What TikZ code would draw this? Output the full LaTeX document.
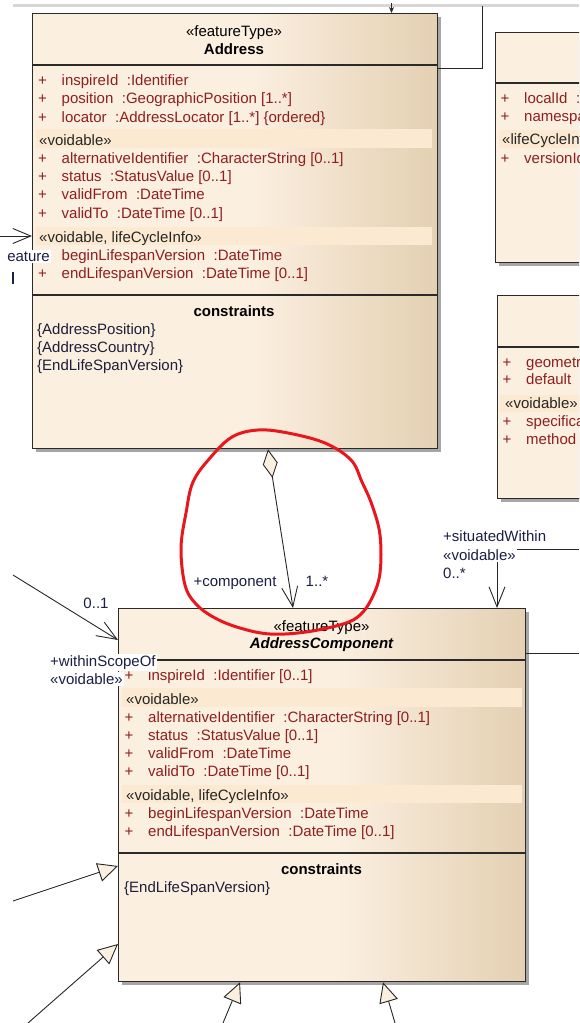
\documentclass[tikz,border=0pt]{standalone}
\usepackage{fontspec}
\setmainfont{Liberation Sans}
\usepackage{tikz}
\usetikzlibrary{arrows.meta, calc, shadows}

\definecolor{boxline}{HTML}{2A2A2A}
\definecolor{clsleft}{HTML}{FBEFE0}
\definecolor{clsright}{HTML}{E4D0B2}
\definecolor{bandfill}{HTML}{FBE9D1}
\definecolor{attrred}{HTML}{8E1F1F}
\definecolor{lblnavy}{HTML}{1B1F45}
\definecolor{noteblue}{HTML}{1C1E3A}
\definecolor{markred}{HTML}{E8171E}
\definecolor{topgray}{HTML}{D6D6D6}

\pgfdeclarehorizontalshading{eafill}{100bp}{color(0bp)=(clsleft); color(25bp)=(clsleft); color(52bp)=(clsleft); color(75bp)=(clsright); color(100bp)=(clsright)}

\newcommand{\umlfont}{\fontsize{15}{18}\selectfont}
\newcommand{\tsep}{\hspace{8.5pt}}
\newcommand{\att}[1]{\makebox[23.5pt][l]{+}#1}

\begin{document}
\begin{tikzpicture}[x=1pt, y=-1pt,
  cls/.style={draw=boxline, line width=1.3pt, anchor=north west, inner sep=0pt,
    drop shadow={shadow xshift=3.5pt, shadow yshift=-3.5pt, fill=black!35, opacity=1}},
  compline/.style={draw=boxline, line width=1.3pt},
  band/.style={fill=bandfill, draw=none},
  attr/.style={anchor=mid west, inner sep=0pt, yshift=-2.5pt, text=attrred, font=\umlfont},
  ster/.style={anchor=mid west, inner sep=0pt, yshift=-2.5pt, text=black!85, font=\umlfont},
  head/.style={anchor=mid, inner sep=0pt, yshift=-2.5pt, text=black, font=\umlfont},
  note/.style={anchor=mid west, inner sep=0pt, yshift=-2.5pt, text=noteblue, font=\umlfont},
  lbl/.style={anchor=mid west, fill=white, inner sep=1.5pt, yshift=-2.5pt, text=lblnavy, font=\umlfont},
  conn/.style={draw=black!85, line width=0.9pt},
  vee/.style={-{Straight Barb[length=20pt, width=16pt]}},
  gen/.style={-{Triangle[length=20pt, width=19pt, fill=clsleft]}}]
\useasboundingbox (0,0) rectangle (579,1023);
\clip (0,0) rectangle (579,1023);

% strip at the top edge
\draw[topgray, line width=3pt] (13,5) -- (579,5);

% Address
\node[cls, shade, shading=eafill, minimum width=405pt, minimum height=435pt] (addr) at (32,13) {};
\draw[compline] ([yshift=-52pt]addr.north west) -- ([yshift=-52pt]addr.north east);
\draw[compline] ([yshift=-282pt]addr.north west) -- ([yshift=-282pt]addr.north east);
\fill[band] (36,129) rectangle (432,148);
\fill[band] (36,227) rectangle (432,245);
\node[head] (addrST) at (234,31) {«featureType»};
\node[head, font=\umlfont\bfseries] (addrN) at (234,49) {Address};
\node[attr] (a1) at (38,80) {\att{inspireId\tsep:Identifier}};
\node[attr] (a2) at (38,98) {\att{position\tsep:GeographicPosition [1..*]}};
\node[attr] (a3) at (38,117) {\att{locator\tsep:AddressLocator [1..*] \{ordered\}}};
\node[ster] (a4) at (39,140) {«voidable»};
\node[attr] (a5) at (38,158) {\att{alternativeIdentifier\tsep:CharacterString [0..1]}};
\node[attr] (a6) at (38,176) {\att{status\tsep:StatusValue [0..1]}};
\node[attr] (a7) at (38,194) {\att{validFrom\tsep:DateTime}};
\node[attr] (a8) at (38,213) {\att{validTo\tsep:DateTime [0..1]}};
\node[ster] (a9) at (39,237) {«voidable, lifeCycleInfo»};
\node[attr] (a10) at (38,255) {\makebox[23.5pt][l]{}beginLifespanVersion\tsep:DateTime};
\node[attr] (a11) at (38,273) {\att{endLifespanVersion\tsep:DateTime [0..1]}};
\node[head, font=\umlfont\bfseries] (addrC) at (234,311) {constraints};
\node[note] (c1) at (37,329) {\{AddressPosition\}};
\node[note] (c2) at (37,347) {\{AddressCountry\}};
\node[note] (c3) at (37,365) {\{EndLifeSpanVersion\}};

% classes cut by the right edge
\node[cls, fill=clsleft, minimum width=160pt, minimum height=230pt] (ident) at (495,32) {};
\draw[compline] ([yshift=-51pt]ident.north west) -- ([yshift=-51pt]ident.north east);
\fill[band] (499,130) rectangle (600,148);
\node[attr] (i1) at (500.5,98) {\att{localId\tsep:}};
\node[attr] (i2) at (500.5,116) {\att{namespace}};
\node[ster] (i3) at (502,139) {«lifeCycleInfo»};
\node[attr] (i4) at (500.5,158) {\att{versionId}};

\node[cls, fill=clsleft, minimum width=160pt, minimum height=203pt] (geopos) at (497,295) {};
\draw[compline] ([yshift=-52pt]geopos.north west) -- ([yshift=-52pt]geopos.north east);
\fill[band] (500,395) rectangle (600,412);
\node[attr] (p1) at (502.5,362) {\att{geometry}};
\node[attr] (p2) at (502.5,379) {\att{default}};
\node[ster] (p3) at (505,403) {«voidable»};
\node[attr] (p4) at (502.5,421) {\att{specification}};
\node[attr] (p5) at (502.5,439) {\att{method}};

% AddressComponent
\node[cls, shade, shading=eafill, minimum width=407pt, minimum height=373pt] (comp) at (118,608) {};
\draw[compline] ([yshift=-52pt]comp.north west) -- ([yshift=-52pt]comp.north east);
\draw[compline] ([yshift=-245pt]comp.north west) -- ([yshift=-245pt]comp.north east);
\fill[band] (122,688) rectangle (522,707);
\fill[band] (122,785) rectangle (522,803);
\node[head] (compST) at (321.5,626) {«featureType»};
\node[head, font=\umlfont\bfseries\itshape] (compN) at (321.5,643) {AddressComponent};
\node[attr] (b1) at (124.5,675) {\att{inspireId\tsep:Identifier [0..1]}};
\node[ster] (b2) at (126,699) {«voidable»};
\node[attr] (b3) at (124.5,717) {\att{alternativeIdentifier\tsep:CharacterString [0..1]}};
\node[attr] (b4) at (124.5,735) {\att{status\tsep:StatusValue [0..1]}};
\node[attr] (b5) at (124.5,753) {\att{validFrom\tsep:DateTime}};
\node[attr] (b6) at (124.5,771) {\att{validTo\tsep:DateTime [0..1]}};
\node[ster] (b7) at (126,795) {«voidable, lifeCycleInfo»};
\node[attr] (b8) at (124.5,813) {\att{beginLifespanVersion\tsep:DateTime}};
\node[attr] (b9) at (124.5,831) {\att{endLifespanVersion\tsep:DateTime [0..1]}};
\node[head, font=\umlfont\bfseries] (compC) at (321.5,869) {constraints};
\node[note] (d1) at (124,887) {\{EndLifeSpanVersion\}};

% connectors
\coordinate (topIn) at (391.5,3);
\draw[conn, -{Stealth[length=6pt, width=5pt]}] (topIn) -- ([xshift=359.5pt]addr.north west);
\coordinate (idLink) at (482,6);
\draw[conn] ([yshift=-55pt]addr.north east) -| (idLink);
\coordinate (featW) at (0,236);
\draw[conn, -{Straight Barb[length=18pt, width=15pt]}] (featW) -- ([yshift=-223pt]addr.north west);
\draw[conn, {Diamond[length=29pt, width=15pt, fill=clsleft]}-{Straight Barb[length=20pt, width=16pt]}]
  ([xshift=236pt]addr.south west) -- ([xshift=175pt]comp.north west);
\coordinate (swE) at (579,549);
\draw[conn, vee] (swE) -| ([xshift=379pt]comp.north west);
\coordinate (wsE) at (579,653);
\draw[conn] ([yshift=-45pt]comp.north east) -- (wsE);
\coordinate (scopeW) at (13,575);
\draw[conn, vee] (scopeW) -- ([yshift=-32pt]comp.north west);
\coordinate (g1) at (13,901);
\draw[conn, gen] (g1) -- ([yshift=-258pt]comp.north west);
\coordinate (g2) at (28,1023);
\draw[conn, gen] (g2) -- ([yshift=-336pt]comp.north west);
\coordinate (g3) at (223,1023);
\draw[conn, gen] (g3) -- ([xshift=122pt]comp.south west);
\coordinate (g4) at (395,1023);
\draw[conn, gen] (g4) -- ([xshift=265pt]comp.south west);

% role labels
\node[lbl, anchor=mid east] (featL) at (51.5,256) {eature};
\draw[lblnavy, line width=1.6pt] (13,272) -- (13,284);
\node[lbl, anchor=mid] (roleComp) at (235,581) {+component};
\node[lbl, anchor=mid] (multComp) at (317,581) {1..*};
\node[lbl] (roleSit) at (441.5,536) {+situatedWithin};
\node[lbl] (sterSit) at (441.5,555) {«voidable»};
\node[lbl] (multSit) at (441.5,573) {0..*};
\node[lbl, anchor=mid] (multScope) at (96,603) {0..1};
\node[lbl] (roleScope) at (48.5,661) {+withinScopeOf};
\node[lbl] (sterScope) at (48.5,679) {«voidable»};

% hand drawn red loop
\draw[markred, line width=3pt, line join=round] plot[smooth cycle, tension=0.6] coordinates {
  (258,430) (288,433) (325,443) (351,460) (362,482) (372,505) (380,535) (380,573)
  (372,598) (360,615) (343,624) (306,632) (270,634) (240,628) (215,618) (196,604)
  (185,585) (181,548) (186,513) (193,482) (210,458) (232,437)};
\end{tikzpicture}
\end{document}
